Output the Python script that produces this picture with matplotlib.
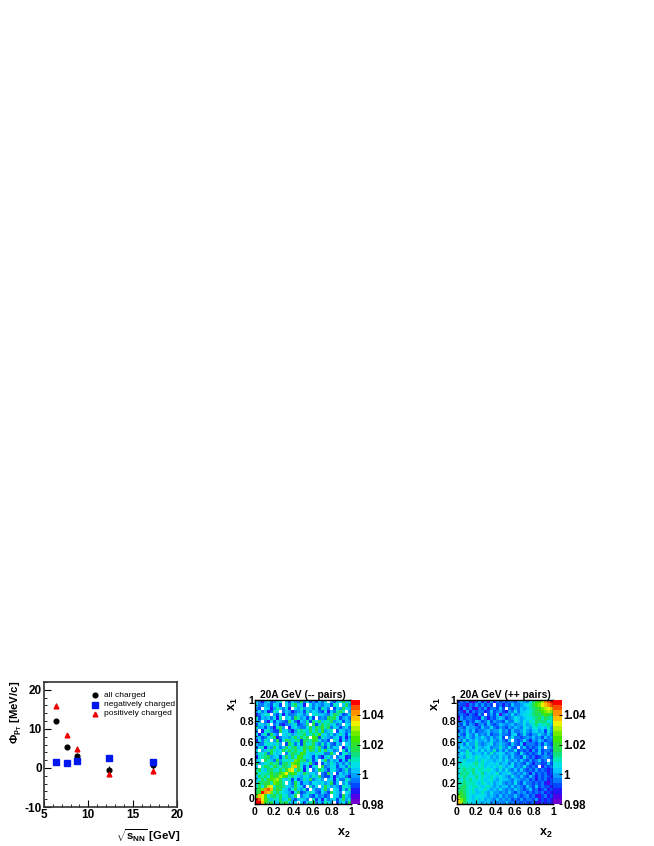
import numpy as np
import matplotlib
matplotlib.use('Agg')
import matplotlib.pyplot as plt
from matplotlib.colors import ListedColormap, BoundaryNorm

plt.rcParams['font.family'] = ['Liberation Sans', 'DejaVu Sans']
plt.rcParams['mathtext.fontset'] = 'custom'
plt.rcParams['mathtext.rm'] = 'Liberation Sans:bold'
plt.rcParams['mathtext.bf'] = 'Liberation Sans:bold'
plt.rcParams['mathtext.it'] = 'Liberation Sans:bold'

W, H = 654, 846

energy = [6.3, 7.6, 8.7, 12.3, 17.3]
all_charged = [12.1, 5.3, 3.0, -0.4, 0.8]
all_err = [0.4, 0.4, 0.6, 0.8, 1.0]
neg_charged = [1.4, 1.2, 1.9, 2.5, 1.4]
neg_err = [0.5, 0.5, 0.7, 0.6, 0.8]
pos_charged = [15.9, 8.5, 4.9, -1.6, -0.7]
pos_err = [0.6, 0.5, 0.8, 0.7, 0.8]

palette = ['#7000d0', '#5000e8', '#2018f8', '#0048ff', '#0078ff', '#00a0ff',
           '#00c8ff', '#00e0e8', '#00e8b8', '#10e080', '#20e050', '#30e030',
           '#40e800', '#70ee00', '#b0f000', '#f0f000', '#ffc000', '#ff9000',
           '#ff5000', '#ff0000']
zmin = 0.98
zmax = 1.05

# rows run from x1=1 down to x1=0, '.' is an empty (white) bin
minus_rows = [
    "64257346 7.63754a 47353647 .5367a68",
    "74465376 3.748a66 2.746546 6387.6a5",
    "43.76258 6472.758 56647386 4.365a76",
    "57462387 .4652456 38576437 2648a8.5",
    "24678.53 72644576 46.78665 47a96347",
    "83656472 8.674a85 6373.454 a9a73564",
    "65.42736 543a7426 58397a68 8a567365",
    "37658.46 32456834 59.a36a8 96745.76",
    "85636428 a5.26754 47a6a9b8 a4763574",
    "4.278533 a6742589 86a7a6b5 68.37645",
    "72683a64 .7685688 a68a8c67 57468637",
    "56347 8a2 46658a6a 8a.cb386 54673625".replace(' 8a2', '8a2'),
    "27486.5a 37a96893 a98ba745 3.862746",
    "64478768 5.3a8473 a78a6484 74365.76",
    "378265a7 46a79a68 a9ca7a53 8476.258",
    "7.568a86 7a8a8a87 c7a96a7a 6745.837",
    "58794a76 7.48a98c a7668774 4a6.3785",
    "27 89a567 37a6a7cb 87637426 85.46723".replace('27 89', '2789'),
    "67.a864a 58787dc9 a5836.7a 47562638",
    "a5678a89 49a8dcb8 67a42.36 58646475",
    "6.8a97b9 7a98egb7 37268.a4 57736648",
    "8a769a87 a8bef8b8 27.46a85 37743584",
    "a7889b9a bdfacb76 a8675.43 a6.37564",
    "6a8a7cab ecb89765 77586a43 37256642",
    "67a8bcde a7683735 86a4675. 67274486",
    "7a9ab8dc a8.64a73 66477675 6a36.574",
    "8a7bef8a a9765a76 3.847.6a 75653876",
    "9bdhig9b a7647a65 83.6447a 5.763748",
    "abjhgd8a 876527a3 46874375 3a764.76",
    "dgfc79a8 a7856a.4 67436453 4.763a65",
    "jifc9687 a67a5367 64.83627 46736a57",
    "jjgc9a76 a9a757.6 378a4648 75.3674a",
]

plus_rows = [
    "24342135 24152434 34435654 79bcehij",
    "43314353 5343.342 43644567 8acdfghi",
    "32534214 35244363 .4354656 89abdefg",
    "43152434 42363453 25474667 79abcded",
    "34324325 3.353614 54745677 89a9bcba",
    "15344332 64243565 34576567 789a8a98",
    "34534365 34635443 64476576 87a99978",
    "43635424 53643465 45645575 68978896",
    "54365543 64474354 35465476 57867685",
    "35464634 45645574 53644575 46756375",
    "64375474 54634464 43673474 35575464",
    "45475465 75464573 .4744345 46453645",
    "64746575 56475464 36.43474 25465344",
    "56475585 45674565 43643624 44353643",
    "47656486 56745585 4743.463 43464.54",
    "65585675 75658464 64473434 25363443",
    "57687566 57585676 45643743 43463534",
    "66587687 66756575 64644374 34234543",
    "76866686 87665675 75464643 534634.4",
    "68777897 86676756 64745436 42443363",
    "78878787 86767686 56745474 343.2434",
    "78988978 87876575 75464643 43534323",
    "79897977 96767856 67545464 25343423",
    "78987797 87687676 54754643 64243432",
    "87979787 86786576 65465445 34243423",
    "88988876 87675675 45474364 43434213",
    "89a87887 67865656 64645436 43634332",
    "8a987867 78656575 45465434 63423423",
    "ab987866 86575545 46435453 43434232",
    "dba87677 76565464 54464345 34213423",
    "fdb87686 75654645 45343534 43523232",
    "gea87676 56645454 64434343 34213232",
]


def decode(rows):
    step = (zmax - zmin) / len(palette)
    out = []
    for row in rows:
        vals = []
        for c in row.replace(' ', ''):
            if c == '.':
                vals.append(np.nan)
            else:
                vals.append(zmin + step * (int(c, 36) + 0.5))
        out.append(vals)
    return np.array(out)[::-1]


def px_axes(fig, left, top, right, bottom):
    return fig.add_axes([left / W, 1 - bottom / H, (right - left) / W, (bottom - top) / H])


def heat_panel(fig, rows, title, left, cbar_left, cbar_right, x1_x):
    top, bottom = 700, 804
    right = cbar_left
    ax = px_axes(fig, left, top, right, bottom)
    cmap = ListedColormap(palette)
    norm = BoundaryNorm(np.linspace(zmin, zmax, len(palette) + 1), len(palette))
    edges = np.linspace(0, 1, 33)
    ax.pcolormesh(edges, edges, decode(rows), cmap=cmap, norm=norm)
    ax.set_xlim(0, 1)
    ax.set_ylim(0, 1)
    ticks = [0, 0.2, 0.4, 0.6, 0.8, 1]
    ticklabels = ['0', '0.2', '0.4', '0.6', '0.8', '1']
    ax.set_xticks(ticks, ticklabels)
    ax.set_yticks(ticks, ticklabels)
    ax.set_xticks(np.arange(0, 1.001, 0.05), minor=True)
    ax.set_yticks(np.arange(0, 1.001, 0.05), minor=True)
    ax.tick_params(which='major', direction='in', length=3, width=0.8, pad=2.2, labelsize=7.5)
    ax.tick_params(axis='y', which='major', pad=0.3)
    ax.tick_params(which='minor', direction='in', length=1.5, width=0.5)
    for lab in ax.get_xticklabels() + ax.get_yticklabels():
        lab.set_fontweight('bold')
    # keep the two corner zeros apart
    ax.get_yticklabels()[0].set_verticalalignment('bottom')
    for s in ax.spines.values():
        s.set_linewidth(1.0)
    fig.text((left + right) / 2 / W, 1 - 694.5 / H, title, ha='center', va='center',
             fontsize=7.4, fontweight='bold')
    fig.text(x1_x / W, 1 - 704 / H, r'$\mathrm{x_1}$', rotation=90, ha='center', va='center', fontsize=9)
    fig.text((right - 7) / W, 1 - 833 / H, r'$\mathrm{x_2}$', ha='center', va='center', fontsize=9)

    cax = px_axes(fig, cbar_left, top, cbar_right, bottom)
    levels = np.linspace(zmin, zmax, len(palette) + 1)
    cax.pcolormesh([0, 1], levels, ((levels[:-1] + levels[1:]) / 2)[:, None], cmap=cmap, norm=norm)
    cax.set_xticks([])
    cax.yaxis.tick_right()
    cax.set_yticks([0.98, 1, 1.02, 1.04], ['0.98', '1', '1.02', '1.04'])
    cax.tick_params(axis='y', direction='in', length=2, width=0.7, pad=1, labelsize=8.3)
    for lab in cax.get_yticklabels():
        lab.set_fontweight('bold')
    for s in cax.spines.values():
        s.set_visible(False)


fig = plt.figure(figsize=(W / 100, H / 100), dpi=100)

ax = px_axes(fig, 44, 682, 177, 807)
ax.errorbar(energy, all_charged, yerr=all_err, fmt='o', color='black', ms=3.4, elinewidth=0.7, capsize=0)
ax.errorbar(energy, pos_charged, yerr=pos_err, fmt='^', color='#f00000', ms=3.4, elinewidth=0.7,
            ecolor='#333333', capsize=0)
ax.errorbar(energy, neg_charged, yerr=neg_err, fmt='s', color='#0018f0', ms=3.7, elinewidth=0.7, capsize=0)
ax.set_xlim(5, 20)
ax.set_ylim(-10, 22)
ax.set_xticks([5, 10, 15, 20], ['5', '10', '15', '20'])
ax.set_yticks([-10, 0, 10, 20], ['-10', '0', '10', '20'])
ax.set_xticks(np.arange(5, 20.01, 1), minor=True)
ax.set_yticks(np.arange(-10, 22.01, 2), minor=True)
ax.tick_params(which='major', direction='in', length=5, width=0.8, pad=1.5, labelsize=8.5)
ax.tick_params(which='minor', direction='in', length=2.5, width=0.6)
for lab in ax.get_xticklabels() + ax.get_yticklabels():
    lab.set_fontweight('bold')
for s in ax.spines.values():
    s.set_linewidth(1.2)
    s.set_color('#333333')

for y, marker, color, ms, label in [(695, 'o', 'black', 3.4, 'all charged'),
                                    (704.5, 's', '#0018f0', 3.7, 'negatively charged'),
                                    (713.5, '^', '#f00000', 3.4, 'positively charged')]:
    fig.add_artist(plt.Line2D([95 / W], [1 - y / H], marker=marker, color=color, ms=ms, ls='none',
                              transform=fig.transFigure))
    fig.text(104 / W, 1 - y / H, label, ha='left', va='center', fontsize=6)

fig.text(17 / W, 1 - 712 / H, r'$\Phi_{p_T}$ [MeV/c]', rotation=90, ha='center', va='center',
         fontsize=8.2, fontweight='bold')
fig.text(148 / W, 1 - 836 / H, r'$\sqrt{s_{NN}}$ [GeV]', ha='center', va='center',
         fontsize=8.2, fontweight='bold')

heat_panel(fig, minus_rows, '20A GeV (-- pairs)', 255, 351, 360, 233)
heat_panel(fig, plus_rows, '20A GeV (++ pairs)', 457, 553, 562, 436)

fig.savefig('out.png', dpi=100)
